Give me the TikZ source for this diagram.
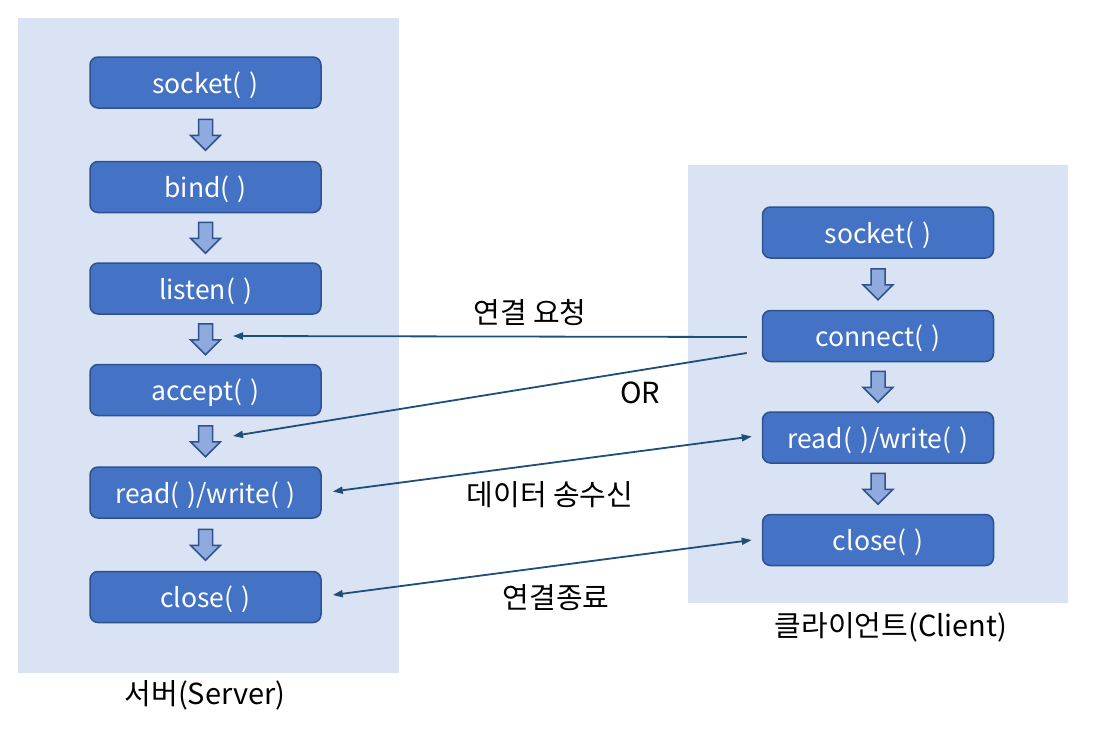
\documentclass[tikz,border=0pt]{standalone}
\usepackage{fontspec}
\setmainfont{Noto Sans CJK KR}
\usetikzlibrary{positioning,arrows.meta,calc}
\definecolor{panelbg}{HTML}{DAE3F3}
\definecolor{boxfill}{HTML}{4472C4}
\definecolor{boxline}{HTML}{2F528F}
\definecolor{arrowfill}{HTML}{8FAADC}
\definecolor{msgline}{HTML}{1F4E79}

\tikzset{
  panel/.style={fill=panelbg, inner sep=0pt},
  func/.style={draw=boxline, fill=boxfill, rounded corners=8pt, line width=1.5pt,
    minimum width=231pt, minimum height=51pt, text=white,
    text height=24pt, text depth=3pt,
    font=\fontsize{26.5}{30}\selectfont},
  msg/.style={draw=msgline, line width=1.8pt},
  msgtext/.style={font=\fontsize{29}{33}\selectfont},
  downarrow/.pic={
    \draw[draw=boxline, fill=arrowfill, line width=1.5pt, line join=miter]
      (-7,-15.5) -- (-7,0.5) -- (-15,0.5) -- (0,15.5) -- (15,0.5) -- (7,0.5) -- (7,-15.5) -- cycle;
  }
}

\begin{document}
\begin{tikzpicture}[x=1pt, y=-1pt, node distance=52pt]
    \useasboundingbox (0,0) rectangle (1114,736);
    % panels
    \node (spanel) [panel, minimum width=381pt, minimum height=655pt] at (208.5,345.5) {};
    \node (cpanel) [panel, minimum width=380pt, minimum height=438pt] at (878,384) {};
    \node (slabel) [msgtext] at (205,695) {서버(Server)};
    \node (clabel) [msgtext] at (891,627) {클라이언트(Client)};

    % server
    \node (s1) [func] at (205.5,82.5) {socket(\hspace{.3em})};
    \node (s2) [func, below=of s1] {bind(\hspace{.3em})};
    \node (s3) [func, below=49pt of s2] {listen(\hspace{.3em})};
    \node (s4) [func, below=49pt of s3] {accept(\hspace{.3em})};
    \node (s5) [func, below=50pt of s4] {read(\hspace{.3em})/write(\hspace{.3em})};
    \node (s6) [func, below=52pt of s5] {close(\hspace{.3em})};

    % client
    \node (c1) [func] at (878,232.5) {socket(\hspace{.3em})};
    \node (c2) [func, below=51pt of c1] {connect(\hspace{.3em})};
    \node (c3) [func, below=49pt of c2] {read(\hspace{.3em})/write(\hspace{.3em})};
    \node (c4) [func, below=50pt of c3] {close(\hspace{.3em})};

    \foreach \a/\b in {s1/s2,s2/s3,s3/s4,s4/s5,s5/s6,c1/c2,c2/c3,c3/c4}
      \path ($(\a.south)!.5!(\b.north)$) pic {downarrow};

    % messages
    \coordinate (req) at (233,336);
    \coordinate (acc) at (233,436);
    \coordinate (cfrom1) at ($(c2.west)+(-15,1)$);
    \coordinate (cfrom2) at ($(c2.west)+(-15,17)$);
    \draw[msg, -{Triangle[length=10pt,width=7pt]}] (cfrom1) -- (req);
    \draw[msg, -{Triangle[length=10pt,width=7pt]}] (cfrom2) -- (acc);
    \draw[msg, {Triangle[length=10pt,width=7pt]}-{Triangle[length=10pt,width=7pt]}]
      ($(s5.east)+(11,-1)$) -- ($(c3.west)+(-10,-1)$);
    \draw[msg, {Triangle[length=10pt,width=7pt]}-{Triangle[length=10pt,width=7pt]}]
      ($(s6.east)+(11,-2)$) -- ($(c4.west)+(-10,0)$);

    \node (t1) [msgtext] at (530,313) {연결 요청};
    \node (t2) [msgtext] at (640,393) {OR};
    \node (t3) [msgtext] at (550,495) {데이터 송수신};
    \node (t4) [msgtext] at (556,598) {연결종료};
\end{tikzpicture}
\end{document}
